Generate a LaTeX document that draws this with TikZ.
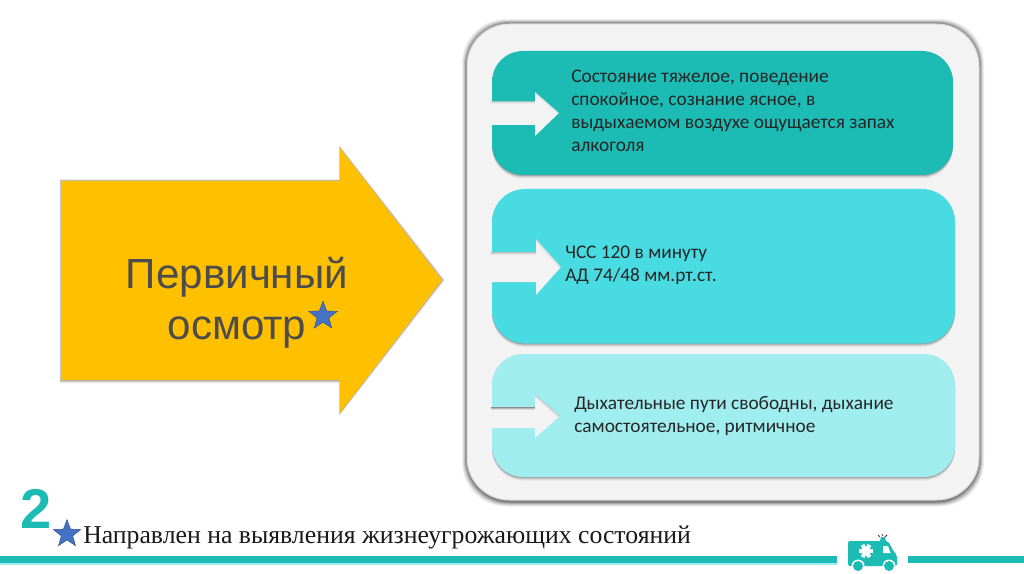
\documentclass[tikz,border=0pt]{standalone}
\usepackage{fontspec}
\setmainfont{Liberation Serif}
\newfontfamily\bodyf{Carlito}
\newfontfamily\headf{Liberation Sans}
\usetikzlibrary{shapes.geometric}
\definecolor{teal1}{HTML}{1CBBB4}
\definecolor{teal2}{HTML}{48DBE2}
\definecolor{teal3}{HTML}{A0EDF0}
\definecolor{panelbg}{HTML}{F3F3F3}
\definecolor{amber}{HTML}{FFC000}
\definecolor{starblue}{HTML}{4472C4}
\tikzset{
 x=0.75pt,y=-0.75pt,
 cardtext/.style={font=\bodyf\fontsize{14.5pt}{17.25pt}\selectfont,text=black!85,align=left,anchor=west,inner sep=0},
 starmark/.style={star,star points=5,star point ratio=2.4,fill=starblue,draw=starblue!70!black,line width=0.3pt,inner sep=0,minimum size=#1},
}
\newcommand{\cardshape}[6]{% x0 y0 x1 y1 radius colour
 \foreach \o/\c in {3.5/0.05,2.5/0.08,1.5/0.12,0.7/0.16}{
  \fill[black,opacity=\c,rounded corners=#5*0.75pt] (#1,#2+\o) rectangle (#3,#4+\o);}
 \fill[#6,rounded corners=#5*0.75pt] (#1,#2) rectangle (#3,#4);
}
\newcommand{\notch}[9]{% x0 shafttop shaftbot neck headtop headbot tip midy shadow-strength
 \fill[panelbg] (#1-1,#2) -- (#4,#2) -- (#4,#5) -- (#7,#8) -- (#4,#6) -- (#4,#3) -- (#1-1,#3) -- cycle;
 \begin{scope}
 \clip (#1-1,#2) -- (#4,#2) -- (#4,#5) -- (#7,#8) -- (#4,#6) -- (#4,#3) -- (#1-1,#3) -- cycle;
 \foreach \w/\c in {5/0.10,3/0.16,1.5/0.22}{
  \draw[black,opacity=\c*#9,line width=\w*0.75pt] (#1-1,#2) -- (#4,#2);
  \draw[black,opacity=\c*#9*0.4,line width=\w*0.75pt] (#4,#5) -- (#7,#8);}
 \end{scope}
}
\begin{document}
\begin{tikzpicture}
\useasboundingbox (0,0) rectangle (1024,574);
\fill[white] (0,0) rectangle (1024,574);

% panel
\foreach \o/\c in {5/0.06,4/0.09,3/0.13,2/0.17,1/0.20}{
 \fill[black,opacity=\c,rounded corners=33pt] (467-\o,24-\o) rectangle (979+\o,500+\o+1.5);}
\fill[white!85!black,rounded corners=32pt] (466.5,23.5) rectangle (979.5,500.5);
\fill[panelbg,rounded corners=32pt] (467.5,24.5) rectangle (978.5,499.5);

% cards
\cardshape{492}{51}{953}{175}{31}{teal1}
\cardshape{492}{189}{955}{343.5}{33}{teal2}
\cardshape{492}{354}{955}{477}{31}{teal3}

\notch{492}{101.5}{125}{535}{92}{136}{559}{113}{0.35}
\notch{492}{252}{282}{536}{239}{295}{561}{267}{0.5}
\notch{492}{407}{428}{535}{394}{438}{560}{416}{1}

\node[cardtext] (c1) at (571,110.5) {Состояние тяжелое, поведение\\спокойное, сознание ясное, в\\выдыхаемом воздухе ощущается запах\\алкоголя};
\node[cardtext] (c2) at (565,265.5) {ЧСС 120 в минуту\\АД 74/48 мм.рт.ст.};
\node[cardtext] (c3) at (574,416) {Дыхательные пути свободны, дыхание\\самостоятельное, ритмичное};

% big arrow
\foreach \o/\c in {3/0.08,2/0.11,1/0.15}{
 \fill[black,opacity=\c] (61-\o*0.5,181-\o*0.6) -- (340-\o*0.3,181-\o*0.6) -- (340-\o*0.3,148-\o) -- (442+\o,280) -- (340-\o*0.3,413+\o) -- (340-\o*0.3,380+\o) -- (61-\o*0.5,380+\o) -- cycle;}
\fill[amber] (61,181) -- (340,181) -- (340,148) -- (442,280) -- (340,413) -- (340,380) -- (61,380) -- cycle;
\node[font=\headf\fontsize{31.6pt}{38pt}\selectfont,text=black!70,align=center,inner sep=0] (t) at (237,302.5) {Первичный\\осмотр};
\node[starmark=30*0.75pt] (s1) at (323,316) {};

% footer
\node[font=\headf\bfseries\fontsize{42pt}{42pt}\selectfont,text=teal1,inner sep=0,anchor=center] (two) at (36,509) {2};
\node[starmark=29*0.75pt] (s2) at (67,534) {};
\node[font=\fontsize{19.3pt}{20pt}\selectfont,text=black!90,inner sep=0,anchor=base west] (foot) at (83,543) {Направлен на выявления жизнеугрожающих состояний};

\fill[teal3] (0,563) rectangle (837,564.5);
\fill[teal1] (0,556) rectangle (837,563);
\fill[teal1] (908,556) rectangle (1024,563);

% ambulance
\fill[teal1,rounded corners=1.5pt] (848,541) -- (888,541) -- (894,552) -- (897,555) -- (897,566) -- (848,566) -- cycle;
\fill[teal1] (880,541) -- (881,537) -- (885,537) -- (886,541) -- cycle;
\fill[white] (883,546) -- (888,546) -- (890.5,553) -- (883,553) -- cycle;
\foreach \ang in {0,60,120}{
 \draw[white,line width=3pt] (866,551)+(\ang:7) -- +(\ang+180:7);}
\foreach \xx in {858,889}{
 \fill[white] (\xx,566) circle (6.5);
 \fill[teal1] (\xx,566) circle (5);}
\foreach \a/\b/\c/\d in {878/535/880/537,882/534/883/536}{
 \draw[black!70,line width=0.6pt] (\a,\b) -- (\c,\d);}
\draw[red!60!black,line width=0.6pt] (887,535) -- (885,537);
\end{tikzpicture}
\end{document}
